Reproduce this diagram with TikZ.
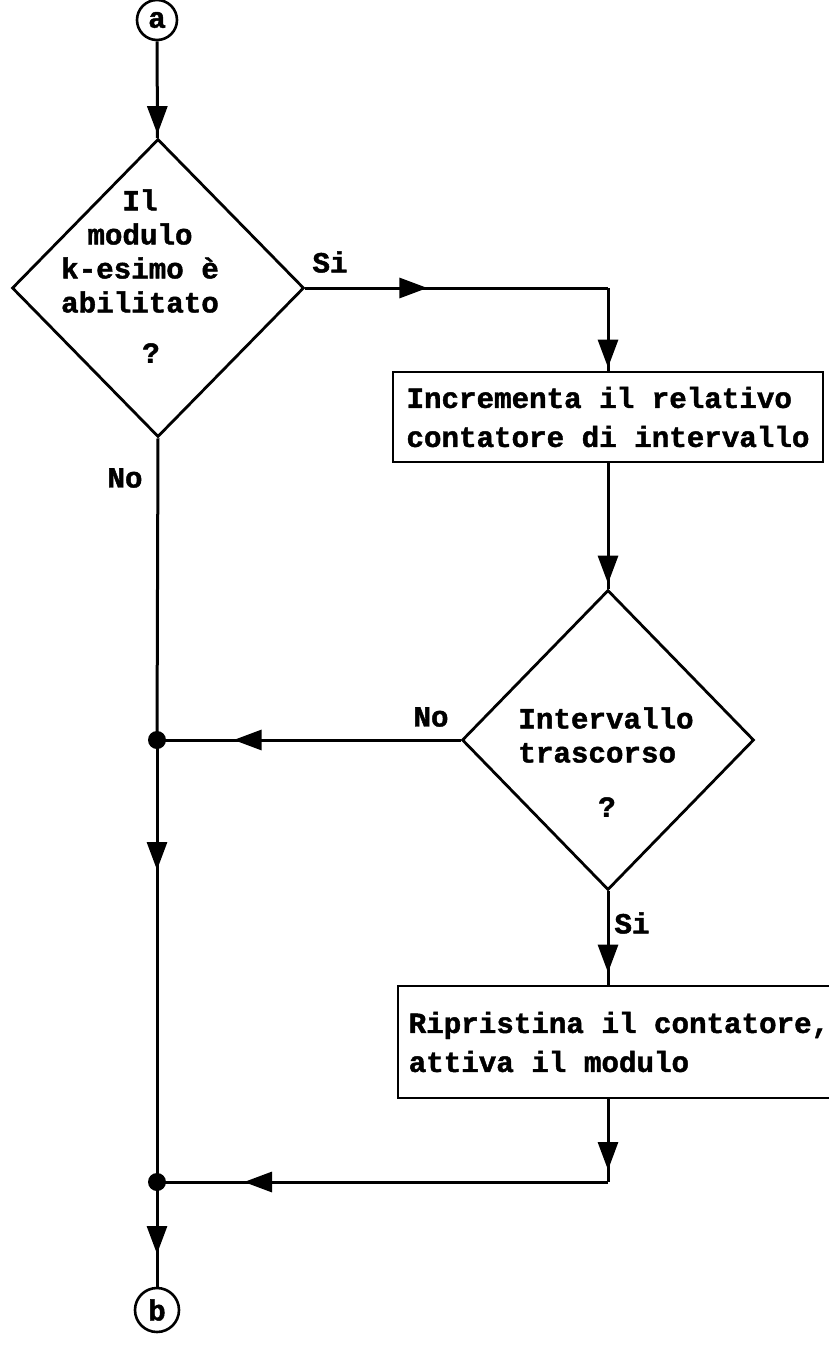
\documentclass[tikz,border=0pt]{standalone}
\usepackage{fontspec}
\setmonofont{Liberation Mono}[BoldFeatures={FakeBold=1.5}]
\usepackage{tikz}
\usetikzlibrary{positioning,shapes.geometric,arrows.meta,decorations.markings}

\begin{document}
\begin{tikzpicture}[
  x=0.5pt, y=-0.5pt,
  txt/.style={font=\ttfamily\bfseries\fontsize{14.6}{19.5}\selectfont},
  qtxt/.style={font=\ttfamily\bfseries\fontsize{14.6}{17}\selectfont, align=center, inner sep=0pt},
  box/.style={txt, draw, line width=1.4pt, align=left, inner sep=0pt},
  decision/.style={draw, diamond, line width=1.4pt, minimum width=146pt, minimum height=149pt, inner sep=0pt},
  conn/.style={txt, draw, circle, line width=1.3pt, minimum size=20pt, inner sep=0pt},
  dot/.style={circle, fill, minimum width=8pt, minimum height=9pt, inner sep=0pt},
  lbl/.style={txt, inner sep=0pt},
  line/.style={line width=1.5pt},
  midarr/.style={postaction={decorate}, decoration={markings, mark=at position #1 with {\arrow{Triangle[length=14pt,width=10pt]}}}}
]
\path[use as bounding box, clip] (0,0) rectangle (829,1345);
\fill[white] (0,0) rectangle (829,1345);

\node[conn] (ca) at (157,20) {a};
\node[decision] (dec1) at (158,288) {};
\node[qtxt] (dec1txt) at (140,251) {Il\\modulo\\k-esimo è\\abilitato};
\node[qtxt] (dec1q) at (151,353) {?};
\node[lbl] (si1) at (330,262) {Si};
\node[lbl] (no1) at (125,478) {No};

\coordinate (c1) at (608,288);
\node[box, minimum width=215pt, minimum height=45pt] (box1) at (608,417) {Incrementa il relativo\\contatore di intervallo};

\node[decision, minimum height=150pt] (dec2) at (608,740) {};
\node[qtxt, align=left, anchor=west] (dec2txt) at (518,735) {Intervallo\\trascorso};
\node[qtxt] (dec2q) at (607,807) {?};
\node[lbl] (no2) at (431,717) {No};
\node[lbl] (si2) at (632,923) {Si};

\node[box, minimum width=221pt, minimum height=56pt] (box2) at (619,1042) {Ripristina il contatore,\\attiva il modulo};
\coordinate (c2) at (608,1182);

\node[dot] (j1) at (157,740) {};
\node[dot] (j2) at (157,1182) {};
\node[conn, minimum size=22pt] (cb) at (157,1310) {b};

\draw[line, midarr=-2pt] (ca) -- (dec1);
\draw[line, midarr=61pt] (dec1.east) -- (c1);
\draw[line, midarr=-1.5pt] (c1) -- (box1.north);
\draw[line, midarr=-2.5pt] (box1) -- (dec2);
\draw[line, midarr=113.5pt] (dec2.west) -- (j1.center);
\draw[line] (dec1.south) -- (j1.center);
\draw[line, midarr=65pt] (j1.center) -- (j2.center);
\draw[line, midarr=-6pt] (dec2.south) -- (dec2.south |- box2.north);
\draw[line, midarr=-6pt] (box2.south -| c2) -- (c2);
\draw[line, midarr=182pt] (c2) -- (j2.center);
\draw[line, midarr=36pt] (j2.center) -- (cb);
\end{tikzpicture}
\end{document}
